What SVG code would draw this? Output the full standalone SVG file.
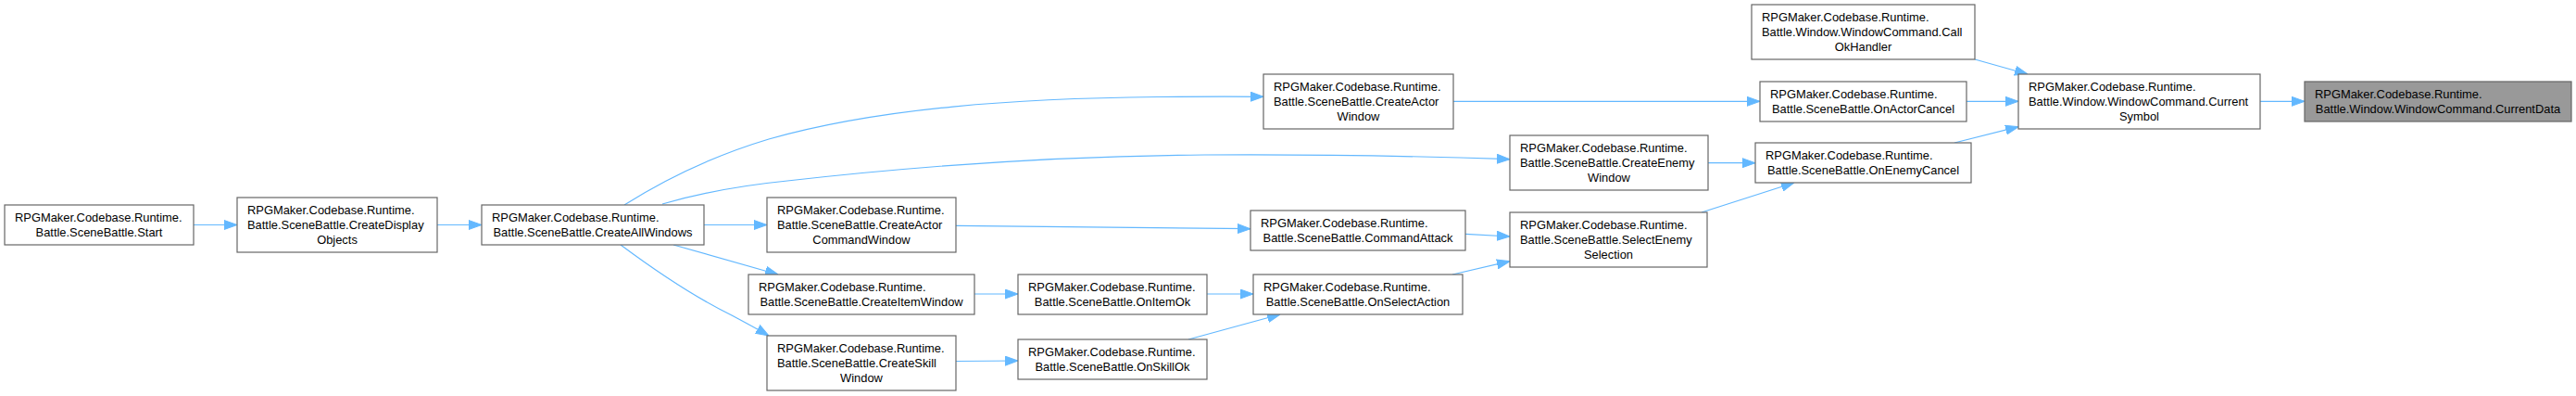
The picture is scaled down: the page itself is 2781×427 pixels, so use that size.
<svg xmlns="http://www.w3.org/2000/svg" width="2781" height="427" viewBox="0 0 2781 427">
<defs>
<style>
.node rect{fill:#ffffff;stroke:#666666;stroke-width:1.2}
.focus rect{fill:#999999;stroke:#666666;stroke-width:1.2}
text{font-family:"Liberation Sans",Arial,sans-serif;font-size:12.9px;fill:#000000}
.c{text-anchor:middle}
.edge path{fill:none;stroke:#63b8ff;stroke-width:1.2;marker-end:url(#ah)}
</style>
<marker id="ah" viewBox="0 0 14 11" refX="14" refY="5.5" markerWidth="14" markerHeight="11" markerUnits="userSpaceOnUse" orient="auto">
<path d="M0,0.5 L14,5.5 L0,10.5 z" fill="#63b8ff" stroke="#63b8ff" stroke-width="1"/>
</marker>
</defs>
<rect width="2781" height="427" fill="#ffffff"/>
<g id="edges" class="edge">
<path d="M209,242.5 L256,242.5"/>
<path d="M472,242.5 L520,242.5"/>
<path d="M674,221 C720,192 770,168 830,150 C950,116 1100,106 1250,104.5 C1300,104 1335,104 1364,104.3"/>
<path d="M715,220 C760,207 800,200 850,195 C1000,178 1150,168 1300,167 C1450,166 1550,169 1630,171.7"/>
<path d="M760,242.5 L828,242.5"/>
<path d="M727,264 L840,296"/>
<path d="M670,264 C705,290 745,318 790,340 C805,348 818,355 830,362"/>
<path d="M1032,243.3 L1350,246.7"/>
<path d="M1052,317 L1099,317"/>
<path d="M1032,389.5 L1099,389"/>
<path d="M1303,317 L1353,317"/>
<path d="M1283,366 L1382,339"/>
<path d="M1569,109.3 L1900,109.3"/>
<path d="M1844,175.7 L1895,175.7"/>
<path d="M1582,252.3 L1630,255"/>
<path d="M1568,296 L1630,281.7"/>
<path d="M1837,229 L1937,197"/>
<path d="M2123,109.3 L2179,109.3"/>
<path d="M2110,154 L2179,136.7"/>
<path d="M2132,64 L2189,80"/>
<path d="M2440,109.3 L2488,109.3"/>
</g>
<g id="n_start" class="node"><rect x="5" y="221" width="204" height="43"/><text x="16" y="239">RPGMaker.Codebase.Runtime.</text><text class="c" x="107" y="255">Battle.SceneBattle.Start</text></g>
<g id="n_createdisplayobjects" class="node"><rect x="256" y="213" width="216" height="59"/><text x="267" y="231">RPGMaker.Codebase.Runtime.</text><text x="267" y="247">Battle.SceneBattle.CreateDisplay</text><text class="c" x="364" y="263">Objects</text></g>
<g id="n_createallwindows" class="node"><rect x="520" y="221" width="240" height="43"/><text x="531" y="239">RPGMaker.Codebase.Runtime.</text><text class="c" x="640" y="255">Battle.SceneBattle.CreateAllWindows</text></g>
<g id="n_createactorwindow" class="node"><rect x="1364" y="80" width="205" height="59"/><text x="1375" y="98">RPGMaker.Codebase.Runtime.</text><text x="1375" y="114">Battle.SceneBattle.CreateActor</text><text class="c" x="1466.5" y="130">Window</text></g>
<g id="n_createenemywindow" class="node"><rect x="1630" y="146" width="214" height="59"/><text x="1641" y="164">RPGMaker.Codebase.Runtime.</text><text x="1641" y="180">Battle.SceneBattle.CreateEnemy</text><text class="c" x="1737" y="196">Window</text></g>
<g id="n_createactorcommandwindow" class="node"><rect x="828" y="213" width="204" height="59"/><text x="839" y="231">RPGMaker.Codebase.Runtime.</text><text x="839" y="247">Battle.SceneBattle.CreateActor</text><text class="c" x="930" y="263">CommandWindow</text></g>
<g id="n_createitemwindow" class="node"><rect x="808" y="296" width="244" height="43"/><text x="819" y="314">RPGMaker.Codebase.Runtime.</text><text class="c" x="930" y="330">Battle.SceneBattle.CreateItemWindow</text></g>
<g id="n_createskillwindow" class="node"><rect x="828" y="362" width="204" height="59"/><text x="839" y="380">RPGMaker.Codebase.Runtime.</text><text x="839" y="396">Battle.SceneBattle.CreateSkill</text><text class="c" x="930" y="412">Window</text></g>
<g id="n_onitemok" class="node"><rect x="1099" y="296" width="204" height="43"/><text x="1110" y="314">RPGMaker.Codebase.Runtime.</text><text class="c" x="1201" y="330">Battle.SceneBattle.OnItemOk</text></g>
<g id="n_onskillok" class="node"><rect x="1099" y="366" width="204" height="43"/><text x="1110" y="384">RPGMaker.Codebase.Runtime.</text><text class="c" x="1201" y="400">Battle.SceneBattle.OnSkillOk</text></g>
<g id="n_commandattack" class="node"><rect x="1350" y="227" width="232" height="43"/><text x="1361" y="245">RPGMaker.Codebase.Runtime.</text><text class="c" x="1466" y="261">Battle.SceneBattle.CommandAttack</text></g>
<g id="n_onselectaction" class="node"><rect x="1353" y="296" width="226" height="43"/><text x="1364" y="314">RPGMaker.Codebase.Runtime.</text><text class="c" x="1466" y="330">Battle.SceneBattle.OnSelectAction</text></g>
<g id="n_selectenemyselection" class="node"><rect x="1630" y="229" width="213" height="59"/><text x="1641" y="247">RPGMaker.Codebase.Runtime.</text><text x="1641" y="263">Battle.SceneBattle.SelectEnemy</text><text class="c" x="1736.5" y="279">Selection</text></g>
<g id="n_onactorcancel" class="node"><rect x="1900" y="88" width="223" height="43"/><text x="1911" y="106">RPGMaker.Codebase.Runtime.</text><text class="c" x="2011.5" y="122">Battle.SceneBattle.OnActorCancel</text></g>
<g id="n_onenemycancel" class="node"><rect x="1895" y="154" width="233" height="43"/><text x="1906" y="172">RPGMaker.Codebase.Runtime.</text><text class="c" x="2011.5" y="188">Battle.SceneBattle.OnEnemyCancel</text></g>
<g id="n_callokhandler" class="node"><rect x="1891" y="5" width="241" height="59"/><text x="1902" y="23">RPGMaker.Codebase.Runtime.</text><text x="1902" y="39">Battle.Window.WindowCommand.Call</text><text class="c" x="2011.5" y="55">OkHandler</text></g>
<g id="n_currentsymbol" class="node"><rect x="2179" y="80" width="261" height="59"/><text x="2190" y="98">RPGMaker.Codebase.Runtime.</text><text x="2190" y="114">Battle.Window.WindowCommand.Current</text><text class="c" x="2309.5" y="130">Symbol</text></g>
<g id="n_currentdata" class="focus"><rect x="2488" y="88" width="288" height="43"/><text x="2499" y="106">RPGMaker.Codebase.Runtime.</text><text class="c" x="2632" y="122">Battle.Window.WindowCommand.CurrentData</text></g>
</svg>
